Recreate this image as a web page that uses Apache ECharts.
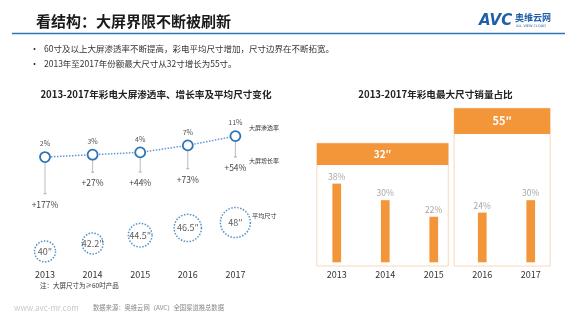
<!DOCTYPE html>
<html><head><meta charset="utf-8">
<script src="https://cdn.jsdelivr.net/npm/echarts@6/dist/echarts.min.js"></script>
<style>html,body{margin:0;padding:0;background:#fff}#c{width:580px;height:326px}</style>
</head><body><div id="c"></div>
<script>
// ---- data ----
const years = ['2013', '2014', '2015', '2016', '2017'];
const penetration = [2, 3, 4, 7, 11];          // 大屏渗透率 %
const growth = [177, 27, 44, 73, 54];           // 大屏增长率 %
const avgSize = [40, 42.2, 44.5, 46.5, 48];     // 平均尺寸 (inch)
const maxSizeShare = [38, 30, 22, 24, 30];      // 最大尺寸销量占比 %
const groupFrom = [0, 3];
const groupTo = [2, 4];
const groupLabels = ['32″', '55″'];
const bullets = ['60寸及以上大屏渗透率不断提高，彩电平均尺寸增加，尺寸边界在不断拓宽。', '2013年至2017年份额最大尺寸从32寸增长为55寸。'];

const FF = '"Noto Sans CJK SC","Noto Sans",sans-serif';
const ORANGE = '#f39539';
const BLUE = '#2e75b6';

function txt(x, y, text, font, fill, align) {
  return { type: 'text', x: x, y: y, silent: true,
    style: { text: text, font: font, fill: fill, textAlign: align || 'left', align: align || 'left',
      textVerticalAlign: 'middle', verticalAlign: 'middle' } };
}

const chart = echarts.init(document.getElementById('c'), null, { renderer: 'canvas' });
chart.setOption({
  animation: false,
  backgroundColor: '#fff',
  textStyle: { fontFamily: FF },
  grid: [
    { left: 21.2, top: 110, width: 238, height: 156 },
    { left: 312.5, top: 100, width: 242.5, height: 166 }
  ],
  xAxis: [
    { type: 'category', gridIndex: 0, data: years, axisLine: { show: false }, axisTick: { show: false },
      axisLabel: { fontSize: 9, color: '#333', margin: 4, fontFamily: FF } },
    { type: 'category', gridIndex: 1, data: years, axisLine: { show: false }, axisTick: { show: false },
      axisLabel: { fontSize: 9, color: '#333', margin: 4, fontFamily: FF } }
  ],
  yAxis: [
    { type: 'value', gridIndex: 0, min: -44.76, max: 22.19, show: false, splitLine: { show: false } },
    { type: 'value', gridIndex: 0, min: 35.97, max: 79.14, show: false, splitLine: { show: false } },
    { type: 'value', gridIndex: 1, min: -1.79, max: 78.4, show: false, splitLine: { show: false } }
  ],
  series: [
    { // growth drops
      type: 'custom', xAxisIndex: 0, yAxisIndex: 0, z: 1, silent: true,
      data: growth.map((g, i) => [i, penetration[i], g]),
      renderItem: function (params, api) {
        const p = api.coord([api.value(0), api.value(1)]);
        const g = api.value(2);
        const len = 14 + 0.128 * g;
        const x = p[0], y1 = p[1] + len;
        return { type: 'group', children: [
          { type: 'line', shape: { x1: x, y1: p[1] + 5, x2: x, y2: y1 }, style: { stroke: '#aaa', lineWidth: 0.8 } },
          { type: 'line', shape: { x1: x - 1.5, y1: y1, x2: x + 1.5, y2: y1 }, style: { stroke: '#999', lineWidth: 0.8 } },
          { type: 'text', x: x, y: y1 + 11, style: { text: '+' + g + '%', font: '8.5px ' + FF, fill: '#444',
            textAlign: 'center', align: 'center', textVerticalAlign: 'middle', verticalAlign: 'middle' } }
        ] };
      }
    },
    { // penetration line
      type: 'line', xAxisIndex: 0, yAxisIndex: 0, z: 5, data: penetration,
      symbol: 'circle', symbolSize: 10,
      itemStyle: { color: '#fff', borderColor: BLUE, borderWidth: 1.8 },
      lineStyle: { color: '#5b9bd5', type: 'dotted', width: 1.5 },
      label: { show: true, position: 'top', distance: 4, formatter: '{c}%', fontSize: 7, color: '#555' }
    },
    { // average size bubbles
      type: 'scatter', xAxisIndex: 0, yAxisIndex: 1, z: 4, data: avgSize,
      symbolSize: function (v) { return 21 + Math.max(0, v - 43) * 1.8; },
      itemStyle: { color: '#fff', borderColor: BLUE, borderType: 'dotted', borderWidth: 1.5 },
      label: { show: true, position: 'inside', formatter: '{c}″', fontSize: 9, color: '#333' }
    },
    { // group boxes
      type: 'custom', xAxisIndex: 1, yAxisIndex: 2, z: 1, silent: true,
      data: groupFrom.map((f, i) => [f, groupTo[i]]),
      renderItem: function (params, api) {
        const i = params.dataIndex;
        const top = [57.5, 74.4][i], hb = [47, 62][i];
        const padL = [0.41, 0.58][i], padR = [0.30, 0.40][i];
        const band = api.size([1, 0])[0];
        const pL = api.coord([api.value(0), top]);
        const pR = api.coord([api.value(1), -1.79]);
        const yh = api.coord([api.value(0), hb])[1];
        const x0 = pL[0] - padL * band, x1 = pR[0] + padR * band;
        return { type: 'group', children: [
          { type: 'rect', shape: { x: x0, y: pL[1], width: x1 - x0, height: pR[1] - pL[1] },
            style: { fill: '#fff', stroke: '#fbd7b8', lineWidth: 1 } },
          { type: 'rect', shape: { x: x0, y: pL[1], width: x1 - x0, height: yh - pL[1] },
            style: { fill: ORANGE } },
          { type: 'text', x: (x0 + x1) / 2, y: (pL[1] + yh) / 2,
            style: { text: groupLabels[i], font: 'bold ' + (i ? 11 : 10) + 'px ' + FF, fill: '#fff',
              textAlign: 'center', align: 'center', textVerticalAlign: 'middle', verticalAlign: 'middle' } }
        ] };
      }
    },
    { // share bars
      type: 'bar', xAxisIndex: 1, yAxisIndex: 2, z: 3, data: maxSizeShare, barWidth: 8.7,
      itemStyle: { color: ORANGE },
      label: { show: true, position: 'top', distance: 3, formatter: '{c}%', fontSize: 8.5, color: '#a6a6a6' }
    }
  ],
  graphic: [
    txt(36, 21, '看结构：大屏界限不断被刷新', 'bold 15px ' + FF, '#1a1a1a'),
    { type: 'line', silent: true, shape: { x1: 12, y1: 33.5, x2: 565, y2: 33.5 }, style: { stroke: BLUE, lineWidth: 1.5 } },
    txt(30, 49, '•', '9px ' + FF, '#333'),
    txt(44, 49, bullets[0], '8.5px ' + FF, '#333'),
    txt(30, 63.5, '•', '9px ' + FF, '#333'),
    txt(44, 63.5, bullets[1], '8.5px ' + FF, '#333'),
    txt(156, 94, '2013-2017年彩电大屏渗透率、增长率及平均尺寸变化', 'bold 9.6px ' + FF, '#222', 'center'),
    txt(435.5, 94, '2013-2017年彩电最大尺寸销量占比', 'bold 9.6px ' + FF, '#222', 'center'),
    txt(249, 128, '大屏渗透率', '6px ' + FF, '#333'),
    txt(249, 161, '大屏增长率', '6px ' + FF, '#333'),
    txt(252, 216, '平均尺寸', '6.2px ' + FF, '#333'),
    txt(40, 286, '注：大屏尺寸为≥60吋产品', '6.5px ' + FF, '#333'),
    txt(14, 308, 'www.avc-mr.com', '8px ' + FF, '#c8c8c8'),
    txt(93, 308, '数据来源：奥维云网（AVC）全国渠道推总数据', '6.3px ' + FF, '#888'),
    txt(479, 21, 'AVC', 'italic bold 15px "DejaVu Sans",sans-serif', '#1f5fa8'),
    txt(515, 18, '奥维云网', 'bold 9px ' + FF, '#1f5fa8'),
    txt(516, 26, 'ALL VIEW CLOUD', '3.5px "DejaVu Sans",sans-serif', '#1f5fa8')
  ]
});
</script></body></html>
